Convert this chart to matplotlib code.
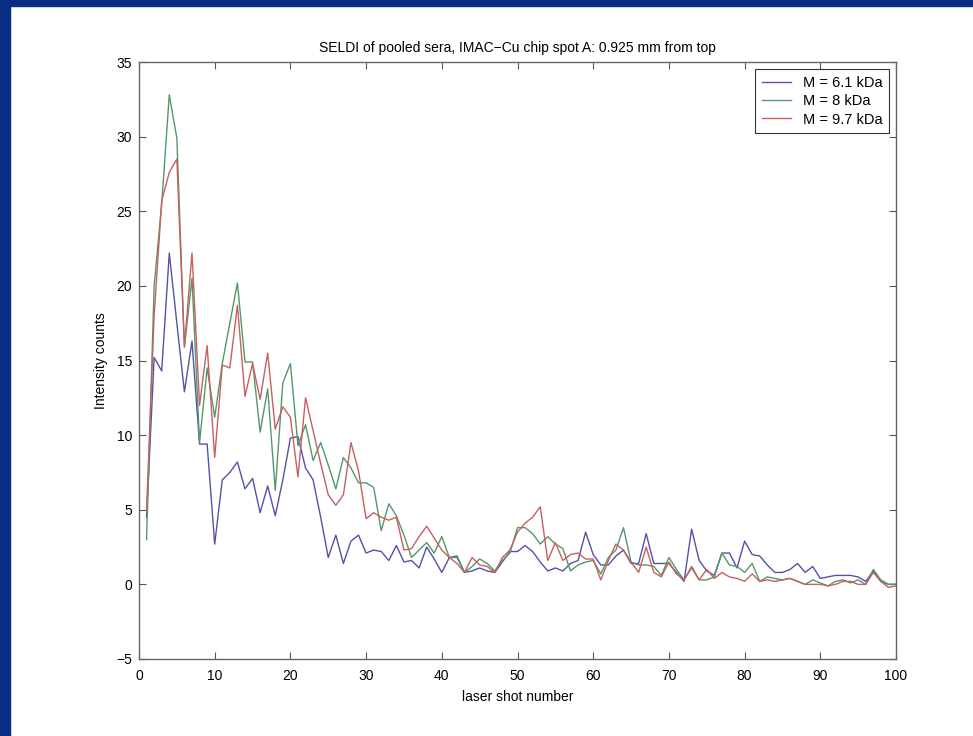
import matplotlib
matplotlib.use("Agg")
import matplotlib.pyplot as plt
import numpy as np
from matplotlib.patches import Rectangle

plt.rcParams["font.family"] = ["Liberation Sans", "DejaVu Sans"]

# laser shot number
shots = np.arange(1, 101)

# intensity counts per mass
m61 = [4.5, 15.2, 14.3, 22.2, 17.5, 12.9, 16.3, 9.4, 9.4, 2.7,
       7.0, 7.5, 8.2, 6.4, 7.1, 4.8, 6.6, 4.6, 7.0, 9.8,
       9.9, 7.8, 7.0, 4.5, 1.8, 3.3, 1.4, 2.9, 3.3, 2.1,
       2.3, 2.2, 1.6, 2.6, 1.5, 1.6, 1.1, 2.5, 1.7, 0.8,
       1.8, 1.9, 0.8, 0.9, 1.1, 0.9, 0.8, 1.5, 2.2, 2.2,
       2.6, 2.2, 1.5, 0.9, 1.1, 0.9, 1.4, 1.6, 3.5, 2.0,
       1.3, 1.3, 1.9, 2.3, 1.4, 1.4, 3.4, 1.4, 1.4, 1.4,
       0.8, 0.2, 3.7, 1.6, 0.9, 0.6, 2.1, 2.1, 1.1, 2.9,
       2.0, 1.9, 1.3, 0.8, 0.8, 1.0, 1.4, 0.8, 1.2, 0.4,
       0.5, 0.6, 0.6, 0.6, 0.5, 0.2, 0.9, 0.2, 0.0, 0.0]

m8 = [3.0, 20.0, 25.5, 32.8, 29.9, 15.9, 20.5, 9.5, 14.5, 11.2,
      14.8, 17.5, 20.2, 14.9, 14.9, 10.2, 13.1, 6.3, 13.5, 14.8,
      9.3, 10.7, 8.3, 9.5, 8.0, 6.4, 8.5, 7.8, 6.8, 6.8,
      6.5, 3.6, 5.4, 4.6, 3.3, 1.8, 2.3, 2.8, 2.1, 3.2,
      1.8, 1.8, 0.8, 1.2, 1.7, 1.4, 0.9, 1.6, 2.1, 3.8,
      3.8, 3.4, 2.7, 3.2, 2.7, 2.4, 0.9, 1.3, 1.5, 1.6,
      0.7, 1.8, 2.3, 3.8, 1.5, 1.3, 1.3, 1.2, 0.6, 1.8,
      1.0, 0.3, 1.1, 0.3, 0.3, 0.5, 2.1, 1.3, 1.2, 0.8,
      1.4, 0.2, 0.5, 0.4, 0.3, 0.4, 0.2, 0.0, 0.3, 0.1,
      -0.1, 0.2, 0.3, 0.1, 0.3, 0.0, 1.0, 0.3, 0.0, 0.0]

m97 = [5.0, 18.0, 25.7, 27.6, 28.5, 15.9, 22.2, 12.0, 16.0, 8.5,
       14.7, 14.5, 18.7, 12.6, 14.8, 12.4, 15.5, 10.4, 11.9, 11.2,
       7.2, 12.5, 10.3, 8.1, 6.0, 5.3, 6.0, 9.5, 7.6, 4.4,
       4.8, 4.5, 4.3, 4.5, 2.3, 2.4, 3.2, 3.9, 3.1, 2.3,
       1.8, 1.4, 0.8, 1.8, 1.3, 1.2, 0.8, 1.8, 2.3, 3.5,
       4.1, 4.5, 5.2, 1.6, 2.8, 1.6, 2.0, 2.1, 1.7, 1.7,
       0.3, 1.6, 2.7, 2.3, 1.5, 0.8, 2.5, 0.8, 0.5, 1.5,
       0.7, 0.3, 1.2, 0.3, 1.0, 0.4, 0.8, 0.5, 0.4, 0.2,
       0.7, 0.2, 0.3, 0.2, 0.3, 0.4, 0.2, 0.0, 0.0, 0.0,
       -0.1, 0.0, 0.2, 0.2, 0.0, 0.0, 0.8, 0.2, -0.2, -0.1]

labels = ["M = 6.1 kDa", "M = 8 kDa", "M = 9.7 kDa"]
colors = ["#5252a8", "#52996a", "#c95f5f"]

fig = plt.figure(figsize=(9.73, 7.36), dpi=100)
fig.patch.set_facecolor("white")

# dark blue slide border (left and top)
fig.patches.append(Rectangle((0, 0), 10 / 973, 1, transform=fig.transFigure,
                             color="#0a2d84", zorder=0))
fig.patches.append(Rectangle((0, 1 - 6 / 736), 1, 6 / 736, transform=fig.transFigure,
                             color="#0a2d84", zorder=0))

ax = fig.add_axes([139 / 973, 77 / 736, 757 / 973, 597 / 736])

for series, lab, col in zip([m61, m8, m97], labels, colors):
    ax.plot(shots, series, color=col, linewidth=1.0, label=lab)

ax.set_xlim(0, 100)
ax.set_ylim(-5, 35)
ax.set_xticks(np.arange(0, 101, 10))
ax.set_yticks(np.arange(-5, 36, 5))
ax.tick_params(axis="both", which="major", direction="in", length=5,
               top=True, right=True, labelsize=10, color="#555555")
ax.tick_params(axis="x", pad=7)
ax.tick_params(axis="y", pad=5)
for sp in ax.spines.values():
    sp.set_color("#666666")
    sp.set_linewidth(1.0)

ax.set_title("SELDI of pooled sera, IMAC\u2212Cu chip spot A: 0.925 mm from top",
             fontsize=10, pad=7)
ax.set_xlabel("laser shot number", fontsize=10, labelpad=5)
ax.set_ylabel("Intensity counts", fontsize=10, labelpad=6)

leg = ax.legend(loc="upper right", fontsize=10.5, fancybox=False,
                framealpha=1.0, edgecolor="#333333", handlelength=2.0,
                borderaxespad=0.5, labelspacing=0.3, borderpad=0.45)
leg.get_frame().set_linewidth(0.8)

fig.savefig("out.png", dpi=100, facecolor=fig.get_facecolor())
